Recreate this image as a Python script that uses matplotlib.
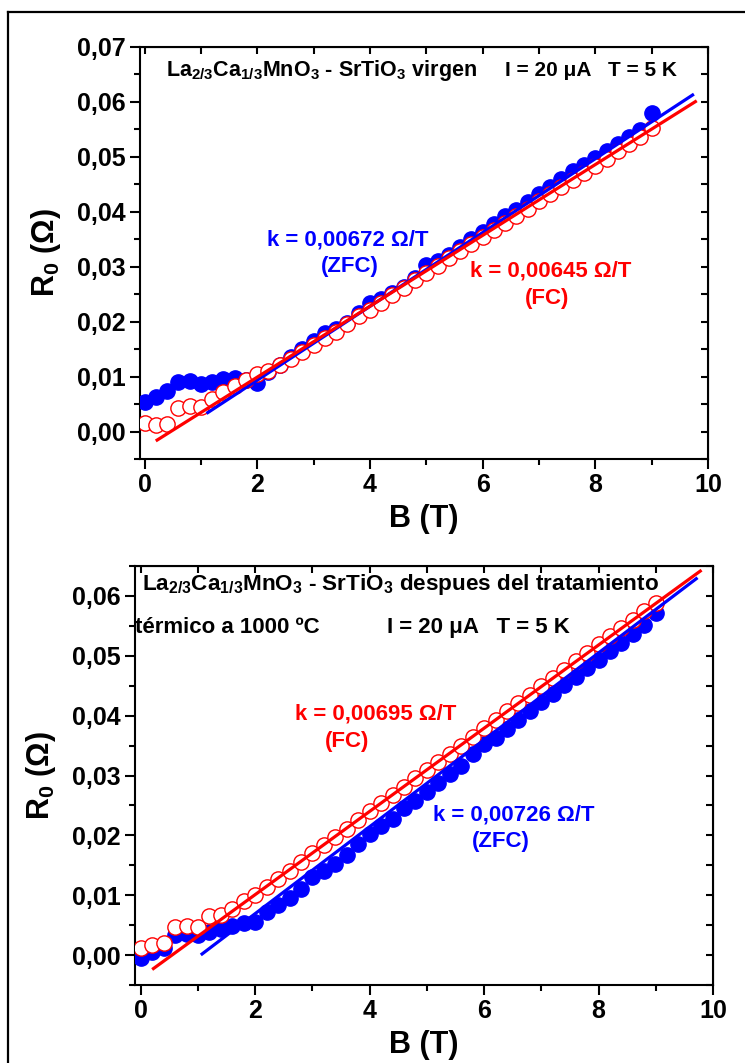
import numpy as np
import matplotlib
matplotlib.use("Agg")
import matplotlib.pyplot as plt
from matplotlib.ticker import MultipleLocator, FuncFormatter
from matplotlib.lines import Line2D

plt.rcParams['font.family'] = ['Liberation Sans', 'DejaVu Sans']
plt.rcParams['font.weight'] = 'bold'
plt.rcParams['mathtext.fontset'] = 'custom'
plt.rcParams['mathtext.rm'] = 'Liberation Sans:bold'
plt.rcParams['mathtext.it'] = 'Liberation Sans:bold'
plt.rcParams['mathtext.bf'] = 'Liberation Sans:bold'
plt.rcParams['mathtext.default'] = 'regular'

# ---- data -------------------------------------------------------------
field_T = [0.0, 0.2, 0.4, 0.6, 0.8, 1.0, 1.2, 1.4, 1.6, 1.8,
           2.0, 2.2, 2.4, 2.6, 2.8, 3.0, 3.2, 3.4, 3.6, 3.8,
           4.0, 4.2, 4.4, 4.6, 4.8, 5.0, 5.2, 5.4, 5.6, 5.8,
           6.0, 6.2, 6.4, 6.6, 6.8, 7.0, 7.2, 7.4, 7.6, 7.8,
           8.0, 8.2, 8.4, 8.6, 8.8, 9.0]

# virgin sample
virgin_zfc = [0.0053, 0.0063, 0.0074, 0.0090, 0.0092, 0.0086, 0.0091, 0.0095, 0.0097, 0.0093,
              0.0089, 0.0108, 0.0121, 0.0136, 0.0150, 0.0164, 0.0180, 0.0186, 0.0198, 0.0215,
              0.0234, 0.0241, 0.0253, 0.0264, 0.0279, 0.0304, 0.0310, 0.0322, 0.0336, 0.0351,
              0.0364, 0.0377, 0.0392, 0.0404, 0.0418, 0.0433, 0.0446, 0.0460, 0.0474, 0.0486,
              0.0498, 0.0511, 0.0524, 0.0537, 0.0549, 0.0580]
virgin_fc = [0.0015, 0.0011, 0.0013, 0.0043, 0.0046, 0.0045, 0.0059, 0.0072, 0.0082, 0.0093,
             0.0104, 0.0110, 0.0122, 0.0132, 0.0145, 0.0158, 0.0170, 0.0182, 0.0196, 0.0210,
             0.0222, 0.0234, 0.0248, 0.0262, 0.0276, 0.0289, 0.0302, 0.0315, 0.0328, 0.0341,
             0.0354, 0.0367, 0.0380, 0.0393, 0.0406, 0.0419, 0.0432, 0.0445, 0.0458, 0.0471,
             0.0484, 0.0497, 0.0510, 0.0524, 0.0537, 0.0552]

# annealed sample (1000 C)
annealed_zfc = [-0.0005, 0.0005, 0.0012, 0.0033, 0.0035, 0.0033, 0.0039, 0.0044, 0.0049, 0.0053,
                0.0056, 0.0072, 0.0084, 0.0095, 0.0110, 0.0130, 0.0141, 0.0152, 0.0168, 0.0185,
                0.0203, 0.0216, 0.0227, 0.0245, 0.0257, 0.0272, 0.0288, 0.0302, 0.0316, 0.0336,
                0.0352, 0.0362, 0.0378, 0.0393, 0.0408, 0.0422, 0.0436, 0.0451, 0.0464, 0.0479,
                0.0493, 0.0508, 0.0522, 0.0537, 0.0551, 0.0572]
annealed_fc = [0.0012, 0.0017, 0.0020, 0.0047, 0.0048, 0.0047, 0.0066, 0.0067, 0.0077, 0.0090,
               0.0101, 0.0113, 0.0127, 0.0141, 0.0156, 0.0171, 0.0184, 0.0198, 0.0211, 0.0226,
               0.0240, 0.0254, 0.0267, 0.0281, 0.0295, 0.0309, 0.0322, 0.0336, 0.0350, 0.0365,
               0.0379, 0.0393, 0.0407, 0.0421, 0.0434, 0.0449, 0.0463, 0.0477, 0.0491, 0.0505,
               0.0519, 0.0533, 0.0547, 0.0560, 0.0574, 0.0588]

# linear fits: slope (ohm/T), intercept (ohm), field range (T)
fit_virgin_zfc = (0.00672, -0.0041, (1.10, 9.75))
fit_virgin_fc = (0.00645, -0.0030, (0.20, 9.80))
fit_annealed_fc = (0.00695, -0.0038, (0.20, 9.80))
fit_annealed_zfc = (0.00726, -0.0076, (1.05, 9.73))

BLUE = '#0000FF'
RED = '#FF0000'
K_SIZE = 16

fig = plt.figure(figsize=(7.45, 10.63), dpi=100)

# outer frame (left and top edges)
fig.add_artist(Line2D([8 / 745, 8 / 745], [0, 1 - 12 / 1063], transform=fig.transFigure,
                      color='black', lw=1.6))
fig.add_artist(Line2D([8 / 745, 1], [1 - 12 / 1063, 1 - 12 / 1063], transform=fig.transFigure,
                      color='black', lw=1.6))


def comma_fmt(v, pos):
    return f"{v:.2f}".replace('.', ',')


def draw_panel(ax, zfc, fc, fit_zfc, fit_fc, ylim, xlim):
    ax.plot(field_T, zfc, 'o', color=BLUE, ms=11, mec=BLUE, zorder=3)
    ax.plot(field_T, fc, 'o', mfc='white', mec=RED, mew=1.0, ms=11, zorder=4)
    for (k, b, (b0, b1)), col, z in ((fit_zfc, BLUE, 5), (fit_fc, RED, 6)):
        bb = np.array([b0, b1])
        ax.plot(bb, k * bb + b, '-', color=col, lw=2.3, zorder=z, solid_capstyle='butt')
    ax.set_xlim(*xlim)
    ax.set_ylim(*ylim)
    ax.xaxis.set_major_locator(MultipleLocator(2))
    ax.xaxis.set_minor_locator(MultipleLocator(1))
    ax.yaxis.set_major_locator(MultipleLocator(0.01))
    ax.yaxis.set_minor_locator(MultipleLocator(0.005))
    ax.yaxis.set_major_formatter(FuncFormatter(comma_fmt))
    ax.tick_params(which='major', direction='out', length=7, width=1.5, labelsize=18, pad=3)
    ax.tick_params(which='minor', direction='out', length=4, width=1.5)
    for lab in ax.get_xticklabels() + ax.get_yticklabels():
        lab.set_fontweight('bold')
    for sp in ax.spines.values():
        sp.set_linewidth(1.5)
    top = ax.secondary_xaxis('top')
    top.xaxis.set_major_locator(MultipleLocator(1))
    top.tick_params(direction='in', length=5, width=1.5, labeltop=False)
    right = ax.secondary_yaxis('right')
    right.yaxis.set_major_locator(MultipleLocator(0.005))
    right.tick_params(direction='in', length=5, width=1.5, labelright=False)
    ax.set_xlabel('B (T)', fontsize=22, fontweight='bold', labelpad=5)
    ax.set_ylabel('R$_0$ ($\\Omega$)', fontsize=22, fontweight='bold', labelpad=10)


# ---- top panel: virgin ------------------------------------------------
ax1 = fig.add_axes([140 / 745, 1 - 459 / 1063, 568 / 745, 412 / 1063])
draw_panel(ax1, virgin_zfc, virgin_fc, fit_virgin_zfc, fit_virgin_fc,
           (-0.005, 0.07), (-0.08, 10))
ax1.text(0.38, 0.0658, 'La$_{2/3}$Ca$_{1/3}$MnO$_3$ - SrTiO$_3$ virgen',
         fontsize=15.5, fontweight='bold', ha='left', va='center')
ax1.text(6.4, 0.0658, 'I = 20 \u03bcA   T = 5 K', fontsize=15, fontweight='bold',
         ha='left', va='center')
ax1.text(3.6, 0.0348, 'k = 0,00672 \u03a9/T', color=BLUE, fontsize=K_SIZE,
         fontweight='bold', ha='center', va='center')
ax1.text(3.65, 0.0300, '(ZFC)', color=BLUE, fontsize=K_SIZE, fontweight='bold',
         ha='center', va='center')
ax1.text(7.2, 0.0293, 'k = 0,00645 \u03a9/T', color=RED, fontsize=K_SIZE,
         fontweight='bold', ha='center', va='center')
ax1.text(7.15, 0.0242, '(FC)', color=RED, fontsize=K_SIZE, fontweight='bold',
         ha='center', va='center')

# ---- bottom panel: after annealing ------------------------------------
ax2 = fig.add_axes([135 / 745, 1 - 985 / 1063, 578 / 745, 419 / 1063])
draw_panel(ax2, annealed_zfc, annealed_fc, fit_annealed_zfc, fit_annealed_fc,
           (-0.005, 0.065), (-0.1, 10))
ax2.text(0.03, 0.0619, 'La$_{2/3}$Ca$_{1/3}$MnO$_3$ - SrTiO$_3$ despues del tratamiento',
         fontsize=16.2, fontweight='bold', ha='left', va='center')
ax2.text(-0.1, 0.0547, 't\u00e9rmico a 1000 \u00baC', fontsize=16, fontweight='bold',
         ha='left', va='center')
ax2.text(4.3, 0.0547, 'I = 20 \u03bcA   T = 5 K', fontsize=16, fontweight='bold',
         ha='left', va='center')
ax2.text(4.1, 0.0402, 'k = 0,00695 \u03a9/T', color=RED, fontsize=K_SIZE,
         fontweight='bold', ha='center', va='center')
ax2.text(3.6, 0.0356, '(FC)', color=RED, fontsize=K_SIZE, fontweight='bold',
         ha='center', va='center')
ax2.text(6.52, 0.0234, 'k = 0,00726 \u03a9/T', color=BLUE, fontsize=K_SIZE,
         fontweight='bold', ha='center', va='center')
ax2.text(6.3, 0.0189, '(ZFC)', color=BLUE, fontsize=K_SIZE, fontweight='bold',
         ha='center', va='center')

fig.savefig('out.png', dpi=100)
